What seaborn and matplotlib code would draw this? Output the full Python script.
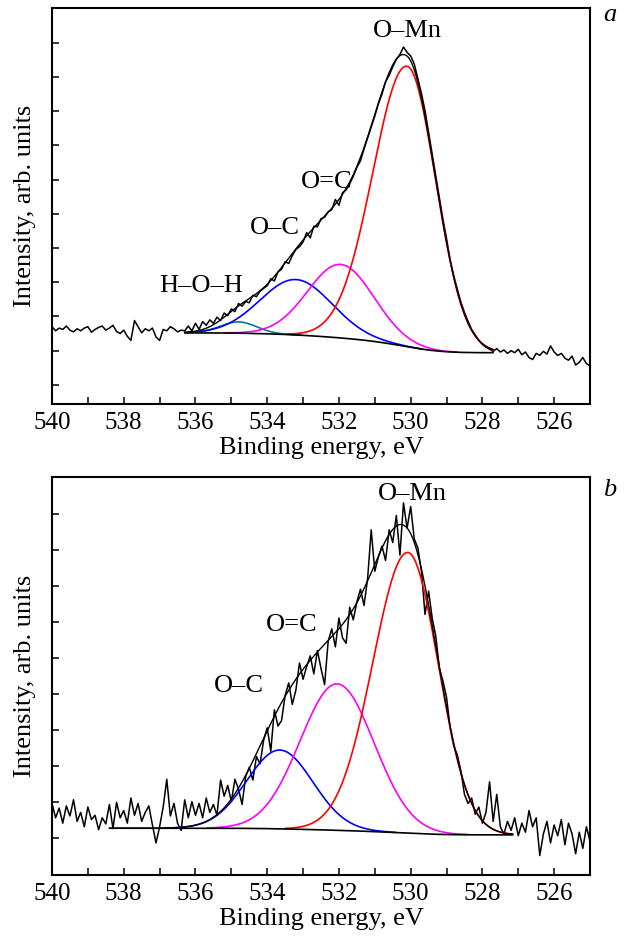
import numpy as np
import pandas as pd
import matplotlib
matplotlib.use("Agg")
import matplotlib.pyplot as plt
import seaborn as sns

# =============================================
# data

# binding energy grid of the measured spectra (eV), 0.1 eV step
energy = np.round(np.linspace(540.0, 525.0, 151), 2)

# panel a: measured spectrum (arb. units), 540.0 -> 525.0 eV
counts_a = [
    1.70, 1.58, 1.66, 1.62, 1.72, 1.60, 1.55, 1.64, 1.58, 1.66,
    1.70, 1.54, 1.62, 1.68, 1.72, 1.60, 1.66, 1.74, 1.56, 1.50,
    1.60, 1.42, 1.30, 1.88, 1.70, 1.52, 1.64, 1.58, 1.66, 1.40,
    1.30, 1.62, 1.58, 1.70, 1.64, 1.55, 1.60, 1.58,
    1.72, 1.58, 1.80, 1.62, 1.85, 1.74, 1.90, 1.80, 1.98, 1.88,
    2.10, 2.02, 2.22, 2.14, 2.38, 2.30, 2.44, 2.40, 2.62, 2.58,
    2.74, 2.82, 2.90, 3.10, 3.04, 3.30, 3.38, 3.60, 3.55, 3.78,
    3.96, 4.04, 4.18, 4.45, 4.30, 4.64, 4.62, 4.86, 4.90, 5.06,
    5.12, 5.42, 5.25, 5.62, 5.70, 5.88, 6.10, 6.36, 6.55, 6.90,
    7.22, 7.55, 7.86, 8.22, 8.50, 8.86, 9.05, 9.30, 9.52, 9.66,
    9.88, 9.72, 9.62, 9.38, 8.96, 8.52, 8.02, 7.38, 6.72, 6.10,
    5.46, 4.84, 4.28, 3.66, 3.20, 2.80, 2.42, 2.12, 1.86, 1.62,
    1.46, 1.30, 1.18, 1.10, 1.04, 0.98, 1.06, 0.96, 1.02, 0.92,
    1.00, 0.94, 1.04, 0.88, 0.96, 0.80, 0.74, 0.92, 0.86, 0.98,
    0.90, 1.14, 0.96, 0.86, 0.92, 0.78, 0.72, 0.84, 0.58, 0.66,
    0.80, 0.62, 0.56,
]

# panel b: measured spectrum (arb. units), 540.0 -> 525.0 eV
counts_b = [
    0.95, 0.55, 0.82, 0.40, 0.88, 0.60, 1.05, 0.45, 0.70, 0.30,
    0.85, 0.50, 0.62, 0.22, 0.55, 0.38, 0.92, 0.25, 0.98, 0.55,
    0.75, 0.40, 1.10, 0.62, 0.95, 0.45, 0.70, 0.88, 0.35, -0.15,
    0.30, 0.85, 1.62, 0.60, 0.95, 0.40, 0.20, 1.05, 0.55, 1.00,
    0.62, 0.95, 0.55, 1.10, 0.70, 0.92, 0.62, 1.60, 1.15, 1.45,
    1.00, 1.62, 1.35, 0.92, 1.70, 1.95, 1.60, 2.25, 2.05, 2.70,
    3.05, 2.40, 3.55, 3.10, 3.25, 3.95, 4.30, 3.70, 4.10, 4.85,
    4.40, 4.75, 5.05, 4.55, 5.20, 4.70, 4.25, 5.45, 5.80, 5.30,
    6.10, 5.55, 5.40, 6.40, 6.05, 6.55, 6.90, 6.45, 7.20, 8.55,
    7.40, 7.80, 8.10, 7.70, 8.55, 8.20, 8.95, 7.85, 9.30, 8.60,
    9.20, 8.30, 8.05, 7.40, 6.20, 6.85, 6.10, 5.60, 4.70, 4.35,
    3.90, 3.05, 2.55, 2.30, 1.85, 1.20, 0.95, 1.10, 0.65, 0.85,
    0.40, 0.70, 1.55, 0.45, 1.20, 0.30, 0.10, 0.45, 0.20, 0.55,
    0.05, 0.40, 0.15, 0.75, 0.30, 0.55, -0.50, 0.10, 0.45, -0.15,
    0.35, 0.05, 0.50, -0.20, 0.40, 0.10, -0.45, 0.15, -0.30, 0.30,
    -0.10,
]

# fitted components (centre eV, height, sigma on high-BE side, sigma on low-BE side)
names_a = ["H–O–H", "O–C", "O=C", "O–Mn"]
center_a = [534.8, 533.2, 531.95, 530.1]
height_a = [0.33, 1.62, 2.15, 8.2]
sigma_hi_a = [0.50, 1.00, 0.92, 0.95]
sigma_lo_a = [0.50, 1.00, 0.92, 0.80]
bg_levels_a = [1.52, 0.94]      # Shirley background, high / low BE end
fit_range_a = [536.3, 527.7]

names_b = ["O–C", "O=C", "O–Mn"]
center_b = [533.65, 532.05, 530.08]
height_b = [2.19, 4.07, 7.8]
sigma_hi_b = [0.92, 1.03, 0.97]
sigma_lo_b = [0.92, 1.03, 0.85]
bg_levels_b = [0.26, 0.075]
fit_range_b = [538.4, 527.15]

# label positions (eV, intensity)
label_pos_a = {"H–O–H": (535.83, 2.90), "O–C": (533.79, 4.58),
               "O=C": (532.33, 5.92), "O–Mn": (530.1, 10.35)}
label_pos_b = {"O–C": (534.79, 4.20), "O=C": (533.32, 5.90),
               "O–Mn": (529.95, 9.55)}

comp_colors_a = ["#008080", "#0000ff", "#ff00ff", "#ff0000"]
comp_colors_b = ["#0000ff", "#ff00ff", "#ff0000"]

# =============================================
# plotting parameters
sns.set_style("ticks")
plt.rcParams['font.family'] = ['Liberation Serif', 'DejaVu Serif']
plt.rcParams['text.color'] = 'black'
plt.rcParams['axes.labelcolor'] = 'black'
plt.rcParams['axes.edgecolor'] = 'black'
plt.rcParams['xtick.color'] = 'black'
plt.rcParams['ytick.color'] = 'black'
plt.rcParams['xtick.direction'] = 'in'
plt.rcParams['ytick.direction'] = 'in'
plt.rcParams['axes.linewidth'] = 1.5
plt.rcParams['xtick.major.width'] = 1.1
plt.rcParams['ytick.major.width'] = 1.1
plt.rcParams['xtick.major.size'] = 5
plt.rcParams['ytick.major.size'] = 5
plt.rcParams['xtick.major.pad'] = 6

tickFontSize = 18
labelFontSize = 19


def component(x, c, h, s_hi, s_lo):
    s = np.where(x >= c, s_hi, s_lo)
    return h * np.exp(-(x - c) ** 2 / (2 * s ** 2))


def shirley(x, total, hi, lo):
    # x runs from high to low binding energy
    steps = 0.5 * (total[1:] + total[:-1]) * np.abs(np.diff(x))
    cum = np.concatenate([[0.0], np.cumsum(steps)])
    below = (cum[-1] - cum) / cum[-1]
    return lo + (hi - lo) * below


def draw_panel(ax, counts, names, center, height, s_hi, s_lo, colors,
               bg_levels, fit_range, label_pos, n_yticks, ylim, letter_y, letter):
    df = pd.DataFrame({'E': energy, 'I': counts})
    sns.lineplot(data=df, x='E', y='I', ax=ax, color='k', lw=1.1,
                 estimator=None, sort=False)

    xf = np.linspace(fit_range[0], fit_range[1], 400)
    comps = [component(xf, c, h, a, b)
             for c, h, a, b in zip(center, height, s_hi, s_lo)]
    total = np.sum(comps, axis=0)
    bg = shirley(xf, total, bg_levels[0], bg_levels[1])

    for comp, h, col in zip(comps, height, colors):
        keep = comp > 0.002 * h
        cdf = pd.DataFrame({'E': xf[keep], 'I': (bg + comp)[keep]})
        sns.lineplot(data=cdf, x='E', y='I', ax=ax, color=col, lw=1.2,
                     estimator=None, sort=False)

    sns.lineplot(x=xf, y=bg, ax=ax, color='k', lw=1.2, estimator=None, sort=False)
    sns.lineplot(x=xf, y=bg + total, ax=ax, color='k', lw=1.0,
                 estimator=None, sort=False)

    for name in names:
        px, py = label_pos[name]
        ax.text(px, py, name, ha='center', va='center', fontsize=labelFontSize)

    ax.set_xlim(540, 525)
    ax.set_ylim(*ylim)
    ax.set_xticks(np.arange(540, 524, -1))
    ax.set_xticklabels([str(int(t)) if int(t) % 2 == 0 else ''
                        for t in np.arange(540, 524, -1)], fontsize=tickFontSize)
    ax.set_yticks(np.arange(n_yticks))
    ax.set_yticklabels([])
    ax.tick_params(top=False, right=False)
    ax.set_xlabel('Binding energy, eV', fontsize=labelFontSize, labelpad=2)
    ax.set_ylabel('Intensity, arb. units', fontsize=labelFontSize, labelpad=8)
    fig.text(610 / 629, letter_y, letter, fontsize=labelFontSize,
             style='italic', ha='center', va='center')


fig = plt.figure(figsize=(6.29, 9.38), dpi=100)
ax1 = fig.add_axes([52 / 629, 1 - 404 / 938, 538 / 629, 396 / 938])
ax2 = fig.add_axes([52 / 629, 1 - 875 / 938, 538 / 629, 398 / 938])

draw_panel(ax1, counts_a, names_a, center_a, height_a, sigma_hi_a, sigma_lo_a,
           comp_colors_a, bg_levels_a, fit_range_a, label_pos_a, 11,
           (-0.56, 11.02), 1 - 15 / 938, 'a')
draw_panel(ax2, counts_b, names_b, center_b, height_b, sigma_hi_b, sigma_lo_b,
           comp_colors_b, bg_levels_b, fit_range_b, label_pos_b, 10,
           (-1.04, 10.02), 1 - 490 / 938, 'b')

plt.savefig('out.png', dpi=100)
plt.close()
